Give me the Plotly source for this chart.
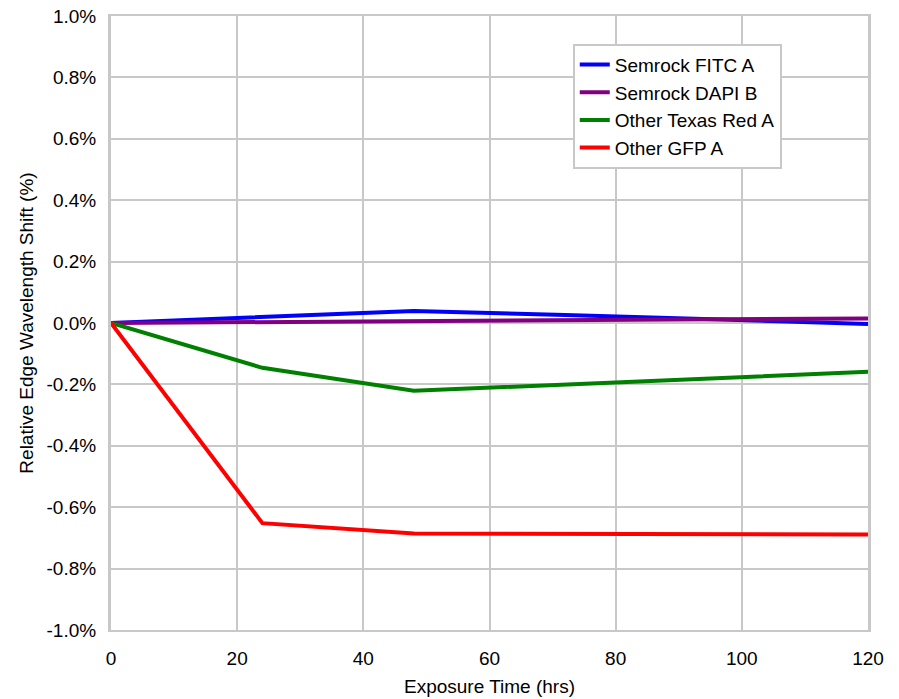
import plotly.graph_objects as go

hours = [0, 24, 48, 72, 120]
fitc_a = [0.0, 0.020, 0.039, 0.026, -0.003]
dapi_b = [0.0, 0.003, 0.005, 0.009, 0.015]
texas_red_a = [0.0, -0.146, -0.221, -0.201, -0.159]
gfp_a = [0.0, -0.652, -0.686, -0.686, -0.689]

y_tick_vals = [-1.0, -0.8, -0.6, -0.4, -0.2, 0.0, 0.2, 0.4, 0.6, 0.8, 1.0]
y_tick_text = ["-1.0%", "-0.8%", "-0.6%", "-0.4%", "-0.2%", "0.0%", "0.2%", "0.4%", "0.6%", "0.8%", "1.0%"]

series = [
    ("Semrock FITC A", fitc_a, "#0000ff"),
    ("Semrock DAPI B", dapi_b, "#800080"),
    ("Other Texas Red A", texas_red_a, "#008000"),
    ("Other GFP A", gfp_a, "#ff0000"),
]

fig = go.Figure()
for name, vals, color in series:
    fig.add_trace(go.Scatter(x=hours, y=vals, mode="lines", name=name,
                             line=dict(color=color, width=4)))

grid = "#c8c8c8"
fig.update_layout(
    width=891, height=691,
    margin=dict(l=103, r=31, t=8, b=69),
    paper_bgcolor="white", plot_bgcolor="white",
    font=dict(family="Liberation Sans, Arial, sans-serif", size=19, color="#000000"),
    showlegend=True,
    legend=dict(x=0.61, y=0.955, xanchor="left", yanchor="top",
                bgcolor="white", bordercolor=grid, borderwidth=2,
                font=dict(size=19), itemwidth=30, tracegroupgap=0),
    xaxis=dict(range=[0, 120], dtick=20, showgrid=True, gridcolor=grid, gridwidth=1.5,
               showline=True, linecolor=grid, linewidth=2, mirror=True, zeroline=False,
               ticks="", ticklen=0, automargin=False, ticklabelstandoff=10,
               title=dict(text="Exposure Time (hrs)", font=dict(size=19), standoff=12)),
    yaxis=dict(range=[-1.0, 1.0], tickvals=y_tick_vals, ticktext=y_tick_text, showgrid=True,
               gridcolor=grid, gridwidth=1.5, showline=True, linecolor=grid, linewidth=3,
               mirror=True, zeroline=False, ticks="", automargin=False,
               ticklabelstandoff=8, ticklabeloverflow="allow",
               title=dict(text="Relative Edge Wavelength Shift (%)", font=dict(size=19), standoff=8)),
)

fig.write_html("out.html")
